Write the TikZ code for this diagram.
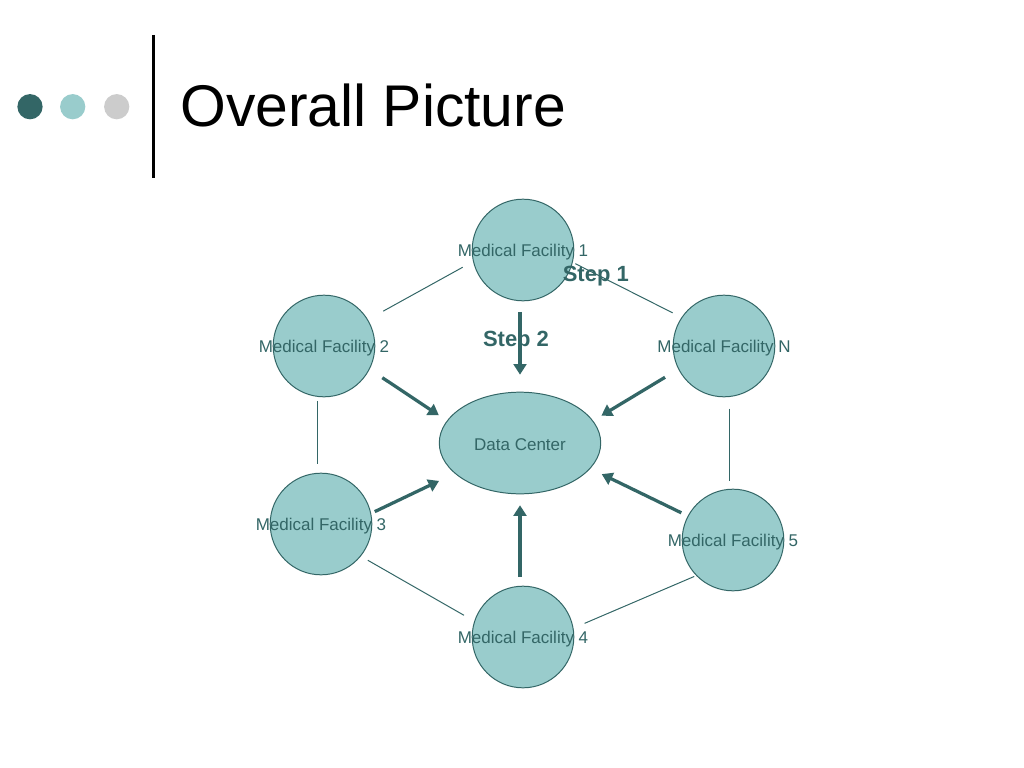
\documentclass[tikz,border=0pt]{standalone}
\usepackage{fontspec}
\setmainfont{Liberation Sans}
\usetikzlibrary{shapes.geometric}
\usetikzlibrary{arrows.meta}
\definecolor{tealdark}{HTML}{336666}
\definecolor{teallight}{HTML}{99CCCC}
\definecolor{dotgray}{HTML}{CCCCCC}

\begin{document}
\begin{tikzpicture}
[x=0.0248cm,y=-0.0248cm,>={Triangle[length=7.5pt,width=9pt]},
 facility/.style={circle,draw=tealdark,fill=teallight,line width=0.7pt,minimum size=71.7pt,inner sep=0pt},
 facname/.style={text=tealdark,font=\fontsize{12}{14}\selectfont},
 faclbl/.style={facname,yshift=-1.4pt},
 steplbl/.style={anchor=base,text=tealdark,inner sep=0pt,font=\fontsize{15.5}{18}\selectfont\bfseries},
 link/.style={draw=tealdark,line width=0.7pt},
 flow/.style={->,draw=tealdark,line width=2.3pt}]
\useasboundingbox (0,0) rectangle (1024,768);
% title bar
\fill[tealdark] (30,106.7) circle (8.9pt);
\fill[teallight] (72.7,106.7) circle (8.9pt);
\fill[dotgray] (116.7,106.7) circle (8.9pt);
\draw[line width=2.8pt] (153.5,35) -- (153.5,178.3);
\node[anchor=base west,inner sep=0pt,font=\fontsize{41.5}{48}\selectfont] (title) at (180,126.7) {Overall Picture};
% facilities
\node[facility,label={[faclbl]center:Medical Facility 1}] (mf1) at (523,250) {};
\node[facility,label={[faclbl]center:Medical Facility 2}] (mf2) at (324,346) {};
\node[facility,label={[faclbl]center:Medical Facility N}] (mfn) at (724,346) {};
\node[facility,label={[faclbl]center:Medical Facility 3}] (mf3) at (321,524) {};
\node[facility,label={[faclbl]center:Medical Facility 5}] (mf5) at (733,540) {};
\node[facility,label={[faclbl]center:Medical Facility 4}] (mf4) at (523,637) {};
\node[ellipse,draw=tealdark,fill=teallight,line width=0.7pt,minimum width=113.9pt,minimum height=71.7pt,inner sep=0pt,
  label={[faclbl]center:Data Center}] (dc) at (520,443) {};
\node[steplbl] (step2) at (516,346.7) {Step 2};
% ring
\draw[link,shorten <=12.3pt,shorten >=8.3pt] (mf2.31) -- (mf1.193);
\draw[link,shorten <=2pt,shorten >=7pt] (mf1.-14) -- (mfn.146);
\draw[link,shorten <=2.8pt,shorten >=6.3pt] (mf2.263) -- (mf2.263 |- mf3.north);
\draw[link,shorten <=8.2pt,shorten >=5.5pt] (mfn.276) -- (mfn.276 |- mf5.north);
\draw[link,shorten <=5.6pt,shorten >=8.3pt] (mf3.-39) -- (mf4.162);
\draw[link,shorten <=8.5pt,shorten >=1.4pt] (mf4.10) -- (mf5.224);
% to data center
\draw[flow,shorten <=7.5pt,shorten >=12pt] (mf1.south -| dc.north) -- (dc.north);
\draw[flow,shorten <=10.7pt,shorten >=6.8pt] (mf2.-27) -- (dc.163);
\draw[flow,shorten <=10.9pt,shorten >=6.8pt] (mfn.207) -- (dc.17);
\draw[flow,shorten <=2.8pt,shorten >=12.2pt] (mf3.12) -- (dc.205);
\draw[flow,shorten <=5pt,shorten >=8.9pt] (mf5.152) -- (dc.-20);
\draw[flow,shorten <=6.1pt,shorten >=7.7pt] (mf4.north -| dc.south) -- (dc.south);
\node[steplbl] (step1) at (595.8,281.7) {Step 1};
\end{tikzpicture}
\end{document}
